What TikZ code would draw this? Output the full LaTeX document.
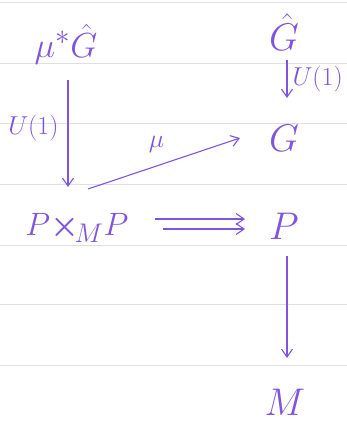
\documentclass[tikz,border=0pt]{standalone}
\usepackage{graphicx}
\usepackage{amsmath}
\usetikzlibrary{arrows.meta}
\definecolor{ink}{RGB}{128,84,222}
\definecolor{rule}{RGB}{222,222,232}
\newcommand{\bigtxt}[2][1.55]{\scalebox{#1}{\Huge #2}}
\newcommand{\smalltxt}[1]{\scalebox{1.5}{\LARGE #1}}
\begin{document}
\begin{tikzpicture}[x=1pt,y=-1pt,
  ink/.style={text=ink,inner sep=1pt},
  ruling/.style={draw=rule,line width=0.8pt},
  arr/.style={draw=ink,line width=1.1pt,-{Straight Barb[length=8pt,width=11pt]}}]
\useasboundingbox (0,0) rectangle (347,423);
\foreach \yy in {2,63,123,184,245,304,365}
  \draw[ruling] (0,\yy) -- (347,\yy);
\node[ink] (pg) at (66,44) {\bigtxt[1.4]{$\mu^{*}\hat{G}$}};
\node[ink] (gh) at (284,32) {\bigtxt{$\hat{G}$}};
\node[ink] (g) at (284,138) {\bigtxt{$G$}};
\node[ink] (pp) at (77,228) {\bigtxt[1.3]{$P{\boldsymbol{\times}}_{\!M}P$}};
\node[ink] (p) at (284,226) {\bigtxt{$P$}};
\node[ink] (m) at (285,402) {\bigtxt{$M$}};
\coordinate (a1) at (68,80);
\coordinate (a2) at (68,187);
\coordinate (b1) at (287,60);
\coordinate (b2) at (287,98);
\coordinate (c1) at (88,189);
\coordinate (c2) at (240,138);
\coordinate (d1) at (155,219);
\coordinate (d2) at (245,219);
\coordinate (e1) at (163,229);
\coordinate (e2) at (245,229);
\coordinate (f1) at (287,256);
\coordinate (f2) at (287,358);
\draw[arr] (a1) -- node[ink,left=8pt,pos=0.45] {\smalltxt{$U(1)$}} (a2);
\draw[arr] (b1) -- node[ink,right=4pt] {\smalltxt{$U(1)$}} (b2);
\draw[arr] (c1) -- node[ink,above=12pt,pos=0.45] {\smalltxt{$\mu$}} (c2);
\draw[arr] (d1) -- (d2);
\draw[arr] (e1) -- (e2);
\draw[arr] (f1) -- (f2);
\end{tikzpicture}
\end{document}
